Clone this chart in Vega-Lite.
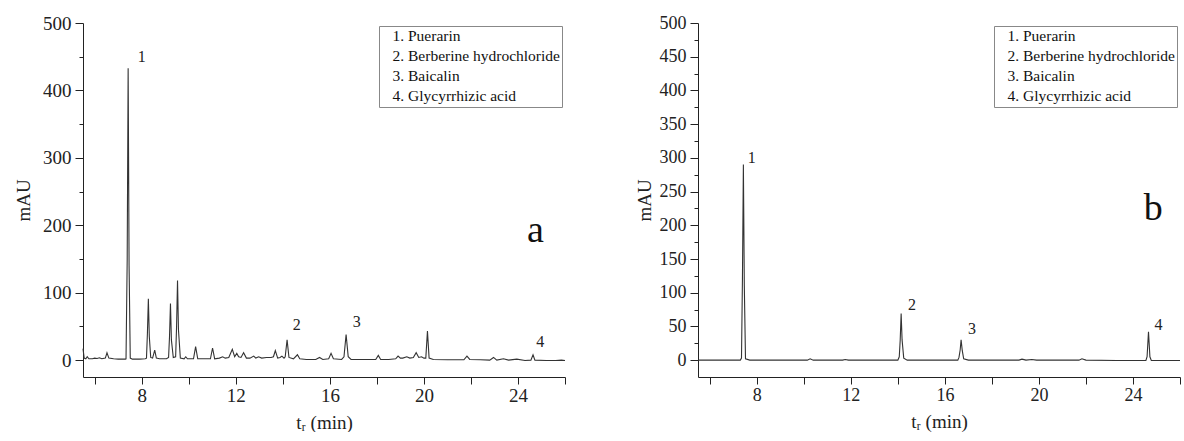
{
  "$schema": "https://vega.github.io/schema/vega-lite/v6.json",
  "padding": {"left": 14, "top": 14, "right": 0, "bottom": 0},
  "background": "white",
  "config": {"view": {"stroke": null}},
  "datasets": {
    "a": [
      {"t": 5.5, "v": 17}, {"t": 5.55, "v": 3}, {"t": 5.62, "v": 2}, {"t": 5.68, "v": 5}, {"t": 5.75, "v": 2},
      {"t": 5.9, "v": 2}, {"t": 6.0, "v": 3}, {"t": 6.1, "v": 2.5}, {"t": 6.2, "v": 3.5}, {"t": 6.3, "v": 2},
      {"t": 6.45, "v": 3}, {"t": 6.52, "v": 11}, {"t": 6.6, "v": 3}, {"t": 6.8, "v": 2}, {"t": 7.0, "v": 1.5},
      {"t": 7.3, "v": 1.5}, {"t": 7.33, "v": 2}, {"t": 7.38, "v": 150}, {"t": 7.42, "v": 433}, {"t": 7.46, "v": 140},
      {"t": 7.51, "v": 3}, {"t": 7.6, "v": 1.5}, {"t": 7.9, "v": 1.5}, {"t": 8.15, "v": 2}, {"t": 8.2, "v": 3},
      {"t": 8.24, "v": 40}, {"t": 8.28, "v": 91}, {"t": 8.32, "v": 35}, {"t": 8.38, "v": 4}, {"t": 8.46, "v": 3},
      {"t": 8.55, "v": 15}, {"t": 8.62, "v": 3}, {"t": 8.75, "v": 2}, {"t": 9.05, "v": 2}, {"t": 9.14, "v": 4},
      {"t": 9.18, "v": 35}, {"t": 9.22, "v": 84}, {"t": 9.26, "v": 30}, {"t": 9.34, "v": 4}, {"t": 9.44, "v": 5},
      {"t": 9.48, "v": 50}, {"t": 9.52, "v": 118}, {"t": 9.56, "v": 45}, {"t": 9.64, "v": 3}, {"t": 9.8, "v": 2},
      {"t": 9.87, "v": 5}, {"t": 9.94, "v": 2}, {"t": 10.2, "v": 2}, {"t": 10.29, "v": 20}, {"t": 10.38, "v": 2},
      {"t": 10.6, "v": 2}, {"t": 10.92, "v": 2}, {"t": 11.01, "v": 18}, {"t": 11.1, "v": 2}, {"t": 11.3, "v": 3},
      {"t": 11.44, "v": 5}, {"t": 11.55, "v": 3}, {"t": 11.7, "v": 4}, {"t": 11.85, "v": 16}, {"t": 11.95, "v": 5},
      {"t": 12.04, "v": 10}, {"t": 12.12, "v": 5}, {"t": 12.22, "v": 4}, {"t": 12.33, "v": 11}, {"t": 12.45, "v": 3},
      {"t": 12.6, "v": 3}, {"t": 12.76, "v": 6}, {"t": 12.85, "v": 3}, {"t": 12.97, "v": 5}, {"t": 13.1, "v": 3},
      {"t": 13.3, "v": 4}, {"t": 13.5, "v": 4}, {"t": 13.6, "v": 5}, {"t": 13.68, "v": 14}, {"t": 13.78, "v": 3},
      {"t": 13.88, "v": 4}, {"t": 13.96, "v": 6}, {"t": 14.05, "v": 3}, {"t": 14.1, "v": 5}, {"t": 14.18, "v": 30},
      {"t": 14.26, "v": 4}, {"t": 14.45, "v": 2}, {"t": 14.62, "v": 8}, {"t": 14.72, "v": 2}, {"t": 15.0, "v": 1},
      {"t": 15.4, "v": 1}, {"t": 15.56, "v": 4}, {"t": 15.7, "v": 1}, {"t": 15.95, "v": 2}, {"t": 16.05, "v": 10},
      {"t": 16.15, "v": 2}, {"t": 16.5, "v": 1}, {"t": 16.6, "v": 5}, {"t": 16.69, "v": 38}, {"t": 16.78, "v": 5},
      {"t": 16.9, "v": 1}, {"t": 17.5, "v": 1}, {"t": 17.95, "v": 1}, {"t": 18.06, "v": 7}, {"t": 18.16, "v": 1},
      {"t": 18.5, "v": 1}, {"t": 18.8, "v": 2}, {"t": 18.9, "v": 6}, {"t": 19.0, "v": 3}, {"t": 19.1, "v": 3},
      {"t": 19.27, "v": 5}, {"t": 19.4, "v": 3}, {"t": 19.55, "v": 4}, {"t": 19.67, "v": 11}, {"t": 19.78, "v": 4},
      {"t": 19.9, "v": 5}, {"t": 20.0, "v": 3}, {"t": 20.08, "v": 3}, {"t": 20.15, "v": 43}, {"t": 20.22, "v": 3},
      {"t": 20.4, "v": 1}, {"t": 21.0, "v": 0.5}, {"t": 21.7, "v": 0.5}, {"t": 21.83, "v": 6}, {"t": 21.95, "v": 1},
      {"t": 22.4, "v": 0.5}, {"t": 22.8, "v": 0}, {"t": 22.96, "v": 4}, {"t": 23.1, "v": 0}, {"t": 23.38, "v": 2},
      {"t": 23.6, "v": 0}, {"t": 23.95, "v": 1.5}, {"t": 24.3, "v": -0.5}, {"t": 24.55, "v": 0}, {"t": 24.64, "v": 8},
      {"t": 24.72, "v": 0}, {"t": 25.2, "v": -0.5}, {"t": 25.6, "v": -0.5}, {"t": 25.85, "v": 0}, {"t": 26.0, "v": -0.5}
    ],
    "b": [
      {"t": 5.5, "v": 0}, {"t": 7.0, "v": 0}, {"t": 7.3, "v": 0}, {"t": 7.35, "v": 3}, {"t": 7.39, "v": 120},
      {"t": 7.43, "v": 290}, {"t": 7.47, "v": 110}, {"t": 7.52, "v": 2}, {"t": 7.7, "v": 0}, {"t": 10.15, "v": 0},
      {"t": 10.27, "v": 2}, {"t": 10.4, "v": 0}, {"t": 11.65, "v": 0}, {"t": 11.76, "v": 1}, {"t": 11.9, "v": 0},
      {"t": 14.0, "v": 0}, {"t": 14.06, "v": 5}, {"t": 14.1, "v": 30}, {"t": 14.14, "v": 69}, {"t": 14.18, "v": 30},
      {"t": 14.25, "v": 3}, {"t": 14.4, "v": 0}, {"t": 16.55, "v": 0}, {"t": 16.6, "v": 4}, {"t": 16.65, "v": 15},
      {"t": 16.69, "v": 30}, {"t": 16.74, "v": 14}, {"t": 16.8, "v": 2}, {"t": 17.0, "v": 0}, {"t": 19.15, "v": 0},
      {"t": 19.28, "v": 1.5}, {"t": 19.45, "v": 0}, {"t": 19.7, "v": 1}, {"t": 19.9, "v": 0}, {"t": 21.7, "v": 0},
      {"t": 21.83, "v": 2}, {"t": 22.0, "v": 0}, {"t": 23.3, "v": -0.5}, {"t": 24.55, "v": -0.5}, {"t": 24.6, "v": 5},
      {"t": 24.66, "v": 42}, {"t": 24.72, "v": 5}, {"t": 24.78, "v": -0.5}, {"t": 26.0, "v": -0.5}
    ],
    "la": [
      {"t": 8.0, "v": 442, "label": "1", "compound": "1. Puerarin"},
      {"t": 14.59, "v": 45, "label": "2", "compound": "2. Berberine hydrochloride"},
      {"t": 17.14, "v": 49.5, "label": "3", "compound": "3. Baicalin"},
      {"t": 24.95, "v": 20, "label": "4", "compound": "4. Glycyrrhizic acid"}
    ],
    "lb": [
      {"t": 7.79, "v": 292, "label": "1", "compound": "1. Puerarin"},
      {"t": 14.6, "v": 74.6, "label": "2", "compound": "2. Berberine hydrochloride"},
      {"t": 17.15, "v": 39.5, "label": "3", "compound": "3. Baicalin"},
      {"t": 25.09, "v": 45, "label": "4", "compound": "4. Glycyrrhizic acid"}
    ]
  },
  "bounds": "flush",
  "spacing": 133,
  "resolve": {"scale": {"color": "independent"}, "legend": {"color": "independent"}},
  "hconcat": [
    {
      "width": 482,
      "height": 354,
      "encoding": {
        "x": {"field": "t", "type": "quantitative", "scale": {"domain": [5.5, 26], "nice": false, "zero": false},
          "axis": {"values": [6, 8, 10, 12, 14, 16, 18, 20, 22, 24, 26], "labelExpr": "datum.value % 4 === 0 ? datum.label : ''",
            "title": "tᵣ (min)", "grid": false, "tickSize": 7, "domainColor": "#222", "tickColor": "#222",
            "labelFont": "Liberation Serif", "labelFontSize": 19, "labelColor": "#222", "labelPadding": 2,
            "labelFlush": false, "labelOverlap": false, "titleFont": "Liberation Serif", "titleFontSize": 19,
            "titleFontWeight": "normal", "titleColor": "#222", "titlePadding": 8}},
        "y": {"field": "v", "type": "quantitative", "scale": {"domain": [-25, 500], "nice": false, "zero": false},
          "axis": {"values": [0, 50, 100, 150, 200, 250, 300, 350, 400, 450, 500], "labelExpr": "datum.value % 100 === 0 ? datum.label : ''",
            "title": "mAU", "grid": false,
            "tickSize": {"condition": {"test": "datum.value % 100 === 0", "value": 8}, "value": 4},
            "domainColor": "#222", "tickColor": "#222", "labelFontSize": 19,
            "labelFont": "Liberation Serif", "labelColor": "#222", "labelPadding": 4,
            "labelFlush": false, "labelOverlap": false, "titleFont": "Liberation Serif", "titleFontSize": 19,
            "titleFontWeight": "normal", "titleColor": "#222", "titlePadding": 9}}
      },
      "layer": [
        {
          "data": {"name": "a"},
          "mark": {"type": "line", "color": "#333", "strokeWidth": 1.1}
        },
        {
          "data": {"name": "la"},
          "mark": {"type": "text", "font": "Liberation Serif", "fontSize": 16, "baseline": "alphabetic", "align": "center"},
          "encoding": {
            "text": {"field": "label"},
            "color": {"field": "compound", "type": "nominal", "scale": {"range": ["#222", "#222", "#222", "#222"]},
              "legend": {"title": null, "orient": "top-right", "offset": 3, "strokeColor": "#888", "fillColor": "white",
                "padding": 2, "symbolSize": 0, "symbolStrokeWidth": 0, "symbolOpacity": 0, "labelFont": "Liberation Serif",
                "labelFontSize": 15.5, "labelColor": "#111", "labelOffset": -4, "rowPadding": 3, "labelLimit": 400}}
          }
        },
        {
          "data": {"values": [{"t": 24.74, "v": 175, "letter": "a"}]},
          "mark": {"type": "text", "font": "Liberation Serif", "fontSize": 38, "baseline": "alphabetic", "align": "center", "color": "#111"},
          "encoding": {"text": {"field": "letter"}}
        }
      ]
    },
    {
      "width": 482,
      "height": 354,
      "encoding": {
        "x": {"field": "t", "type": "quantitative", "scale": {"domain": [5.5, 26], "nice": false, "zero": false},
          "axis": {"values": [6, 8, 10, 12, 14, 16, 18, 20, 22, 24, 26], "labelExpr": "datum.value % 4 === 0 ? datum.label : ''",
            "title": "tᵣ (min)", "grid": false, "tickSize": 7, "domainColor": "#222", "tickColor": "#222",
            "labelFont": "Liberation Serif", "labelFontSize": 18, "labelColor": "#222", "labelPadding": 2,
            "labelFlush": false, "labelOverlap": false, "titleFont": "Liberation Serif", "titleFontSize": 19,
            "titleFontWeight": "normal", "titleColor": "#222", "titlePadding": 8}},
        "y": {"field": "v", "type": "quantitative", "scale": {"domain": [-25, 500], "nice": false, "zero": false},
          "axis": {"values": [0, 25, 50, 75, 100, 125, 150, 175, 200, 225, 250, 275, 300, 325, 350, 375, 400, 425, 450, 475, 500],
            "labelExpr": "datum.value % 50 === 0 ? datum.label : ''",
            "title": "mAU", "grid": false,
            "tickSize": {"condition": {"test": "datum.value % 50 === 0", "value": 8}, "value": 4},
            "domainColor": "#222", "tickColor": "#222", "labelFontSize": 18,
            "labelFont": "Liberation Serif", "labelColor": "#222", "labelPadding": 4,
            "labelFlush": false, "labelOverlap": false, "titleFont": "Liberation Serif", "titleFontSize": 19,
            "titleFontWeight": "normal", "titleColor": "#222", "titlePadding": 5}}
      },
      "layer": [
        {
          "data": {"name": "b"},
          "mark": {"type": "line", "color": "#333", "strokeWidth": 1.1}
        },
        {
          "data": {"name": "lb"},
          "mark": {"type": "text", "font": "Liberation Serif", "fontSize": 16, "baseline": "alphabetic", "align": "center"},
          "encoding": {
            "text": {"field": "label"},
            "color": {"field": "compound", "type": "nominal", "scale": {"range": ["#222", "#222", "#222", "#222"]},
              "legend": {"title": null, "orient": "top-right", "offset": 3, "strokeColor": "#888", "fillColor": "white",
                "padding": 2, "symbolSize": 0, "symbolStrokeWidth": 0, "symbolOpacity": 0, "labelFont": "Liberation Serif",
                "labelFontSize": 15.5, "labelColor": "#111", "labelOffset": -4, "rowPadding": 3, "labelLimit": 400}}
          }
        },
        {
          "data": {"values": [{"t": 24.86, "v": 208, "letter": "b"}]},
          "mark": {"type": "text", "font": "Liberation Serif", "fontSize": 38, "baseline": "alphabetic", "align": "center", "color": "#111"},
          "encoding": {"text": {"field": "letter"}}
        }
      ]
    }
  ]
}
